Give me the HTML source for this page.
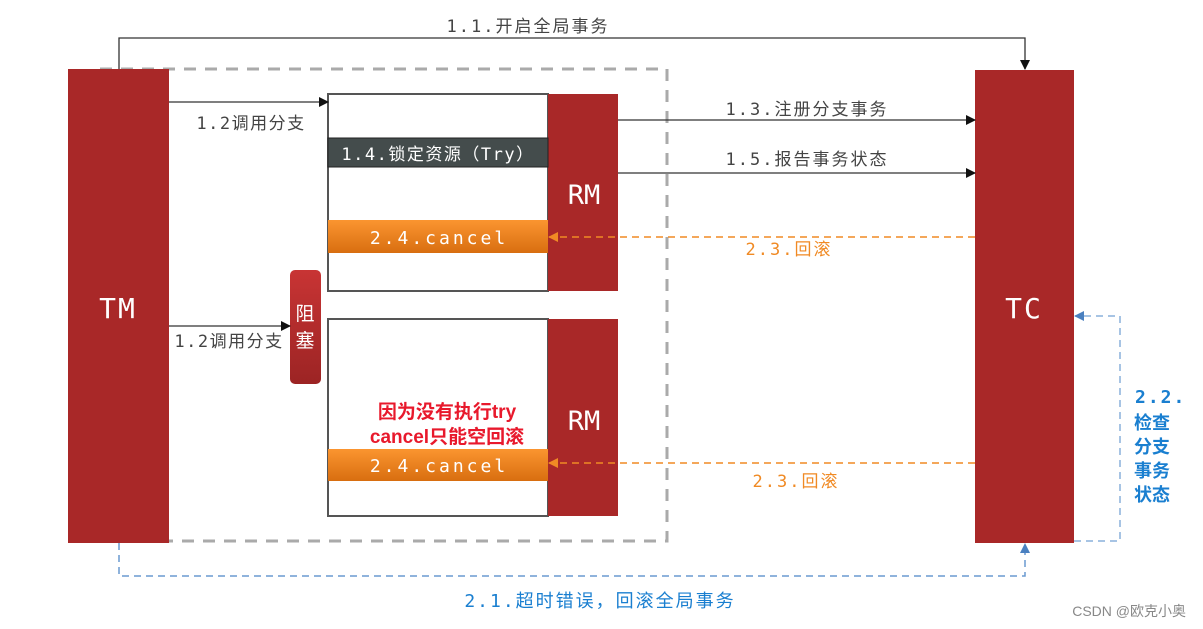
<!DOCTYPE html>
<html><head><meta charset="utf-8"><style>
html,body{margin:0;padding:0;background:#fff;}
svg{display:block;}
text{font-family:"DejaVu Sans Mono","Liberation Mono","Noto Sans CJK SC",monospace;}
.cj{font-family:"Liberation Sans","Noto Sans CJK SC",sans-serif;}
</style></head><body>
<svg width="1203" height="629" viewBox="0 0 1203 629" xmlns="http://www.w3.org/2000/svg">
<defs>
<marker id="ab" markerWidth="10" markerHeight="10" refX="9" refY="5" orient="auto" markerUnits="userSpaceOnUse"><path d="M0,0 L10,5 L0,10 z" fill="#111"/></marker>
<marker id="ao" markerWidth="10" markerHeight="10" refX="9" refY="5" orient="auto" markerUnits="userSpaceOnUse"><path d="M0,0 L10,5 L0,10 z" fill="#f08a24"/></marker>
<marker id="abl" markerWidth="10" markerHeight="10" refX="9" refY="5" orient="auto" markerUnits="userSpaceOnUse"><path d="M0,0 L10,5 L0,10 z" fill="#4a80c0"/></marker>
<linearGradient id="og" x1="0" y1="0" x2="0" y2="1"><stop offset="0" stop-color="#fb9530"/><stop offset="1" stop-color="#d86e10"/></linearGradient>
<linearGradient id="rg" x1="0" y1="0" x2="0" y2="1"><stop offset="0" stop-color="#c83434"/><stop offset="1" stop-color="#9c2424"/></linearGradient>
</defs>
<rect x="100" y="69" width="567" height="472" fill="none" stroke="#aaa" stroke-width="3" stroke-dasharray="12,9"/>
<rect x="68" y="69" width="101" height="474" fill="#a92828"/>
<text x="118" y="318" fill="#fff" font-size="28" letter-spacing="2" text-anchor="middle">TM</text>
<rect x="975" y="70" width="99" height="473" fill="#a92828"/>
<text x="1024" y="318" fill="#fff" font-size="28" letter-spacing="2" text-anchor="middle">TC</text>
<rect x="328" y="94" width="220" height="197" fill="#fff" stroke="#555" stroke-width="2"/>
<rect x="548" y="94" width="70" height="197" fill="#a92828"/>
<text x="584" y="204" fill="#fff" font-size="27" text-anchor="middle">RM</text>
<rect x="328" y="138" width="220" height="29" fill="#444c4c" stroke="#222" stroke-width="1"/>
<text x="438" y="160" fill="#fff" font-size="17" letter-spacing="1.5" text-anchor="middle">1.4.锁定资源（Try）</text>
<rect x="328" y="220" width="220" height="33" fill="url(#og)"/>
<text x="439" y="244" fill="#fff" font-size="18" letter-spacing="3" text-anchor="middle">2.4.cancel</text>
<rect x="328" y="319" width="220" height="197" fill="#fff" stroke="#555" stroke-width="2"/>
<rect x="548" y="319" width="70" height="197" fill="#a92828"/>
<text x="584" y="430" fill="#fff" font-size="27" text-anchor="middle">RM</text>
<rect x="328" y="449" width="220" height="32" fill="url(#og)"/>
<text x="439" y="472" fill="#fff" font-size="18" letter-spacing="3" text-anchor="middle">2.4.cancel</text>
<text class="cj" x="447" y="418" fill="#e8192c" font-size="19" font-weight="bold" text-anchor="middle">因为没有执行try</text>
<text class="cj" x="447" y="443" fill="#e8192c" font-size="19" font-weight="bold" text-anchor="middle">cancel只能空回滚</text>
<rect x="290" y="270" width="31" height="114" rx="5" fill="url(#rg)"/>
<text class="cj" x="305" y="320" fill="#fff" font-size="19" text-anchor="middle">阻</text>
<text class="cj" x="305" y="347" fill="#fff" font-size="19" text-anchor="middle">塞</text>
<polyline points="119,69 119,38 1025,38 1025,69" fill="none" stroke="#333" stroke-width="1.3" marker-end="url(#ab)"/>
<text x="528" y="32" fill="#444" font-size="17" letter-spacing="2" text-anchor="middle">1.1.开启全局事务</text>
<line x1="169" y1="102" x2="328" y2="102" stroke="#333" stroke-width="1.3" marker-end="url(#ab)"/>
<text x="251" y="129" fill="#444" font-size="17" letter-spacing="1.5" text-anchor="middle">1.2调用分支</text>
<line x1="169" y1="326" x2="290" y2="326" stroke="#333" stroke-width="1.3" marker-end="url(#ab)"/>
<text x="229" y="347" fill="#444" font-size="17" letter-spacing="1.5" text-anchor="middle">1.2调用分支</text>
<line x1="618" y1="120" x2="975" y2="120" stroke="#333" stroke-width="1.3" marker-end="url(#ab)"/>
<text x="807" y="115" fill="#444" font-size="17" letter-spacing="2" text-anchor="middle">1.3.注册分支事务</text>
<line x1="618" y1="173" x2="975" y2="173" stroke="#333" stroke-width="1.3" marker-end="url(#ab)"/>
<text x="807" y="165" fill="#444" font-size="17" letter-spacing="2" text-anchor="middle">1.5.报告事务状态</text>
<line x1="975" y1="237" x2="549" y2="237" stroke="#f08a24" stroke-width="1.5" stroke-dasharray="7,5" marker-end="url(#ao)"/>
<text x="789" y="255" fill="#f08a24" font-size="17" letter-spacing="2" text-anchor="middle">2.3.回滚</text>
<line x1="975" y1="463" x2="549" y2="463" stroke="#f08a24" stroke-width="1.5" stroke-dasharray="7,5" marker-end="url(#ao)"/>
<text x="796" y="487" fill="#f08a24" font-size="17" letter-spacing="2" text-anchor="middle">2.3.回滚</text>
<polyline points="1074,541 1120,541 1120,316 1075,316" fill="none" stroke="#8ab0dc" stroke-width="1.5" stroke-dasharray="7,5" marker-end="url(#abl)"/>
<g fill="#1a7fd0" font-size="18" font-weight="bold">
<text x="1135" y="403" letter-spacing="2">2.2.</text>
<text class="cj" x="1134" y="429">检查</text>
<text class="cj" x="1134" y="453">分支</text>
<text class="cj" x="1134" y="477">事务</text>
<text class="cj" x="1134" y="501">状态</text>
</g>
<polyline points="119,543 119,576 1025,576 1025,544" fill="none" stroke="#6a9ad0" stroke-width="1.5" stroke-dasharray="7,5" marker-end="url(#abl)"/>
<text x="600" y="607" fill="#1a7fd0" font-size="18" letter-spacing="2" text-anchor="middle">2.1.超时错误，回滚全局事务</text>
<text class="cj" x="1186" y="616" fill="#888" font-size="14" text-anchor="end">CSDN @欧克小奥</text>
</svg>
</body></html>
